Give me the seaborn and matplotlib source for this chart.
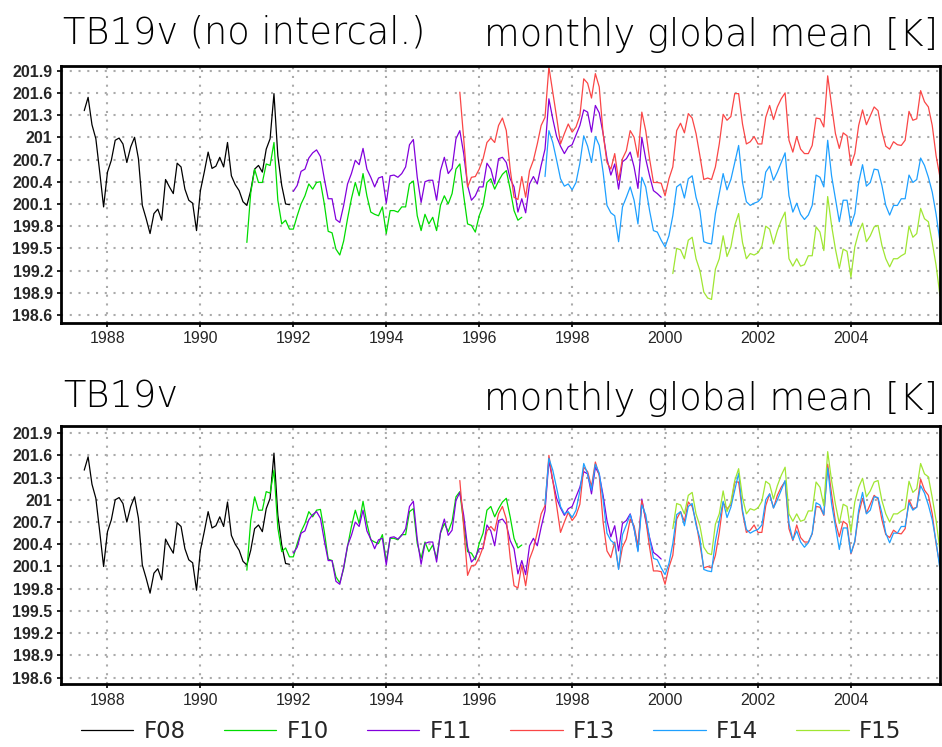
import numpy as np
import pandas as pd
import matplotlib
matplotlib.use("Agg")
import matplotlib.pyplot as plt
from matplotlib.lines import Line2D
import seaborn as sns

# ---------------- data (monthly global mean TB19v, K) ----------------
satellites = ["F08", "F10", "F11", "F13", "F14", "F15"]
sat_colors = ["#000000", "#00dc00", "#8200dc", "#fa4646", "#1ea0ff", "#a0e632"]

f08_start = (1987, 7)
f08_tb = [201.36, 201.54, 201.17, 200.98, 200.53, 200.06, 200.53, 200.69, 200.96, 200.99, 200.91, 200.66,
          200.87, 201.00, 200.71, 200.08, 199.90, 199.70, 199.97, 200.03, 199.88, 200.43, 200.33, 200.24,
          200.65, 200.60, 200.30, 200.15, 200.11, 199.74, 200.28, 200.53, 200.80, 200.58, 200.61, 200.73,
          200.60, 200.93, 200.48, 200.36, 200.28, 200.13, 200.08, 200.28, 200.57, 200.62, 200.53, 200.84,
          200.98, 201.59, 200.75, 200.35, 200.10, 200.09]

f10_start = (1991, 1)
f10_tb = [199.58, 200.25, 200.57, 200.39, 200.39, 200.64, 200.62, 200.93, 200.15, 199.83, 199.88, 199.76,
          199.76, 199.94, 200.10, 200.21, 200.37, 200.30, 200.39, 200.40, 200.10, 199.73, 199.71, 199.49,
          199.41, 199.60, 199.90, 200.17, 200.39, 200.21, 200.51, 200.21, 199.99, 199.96, 199.94, 200.06,
          199.70, 200.01, 200.01, 199.99, 200.06, 200.06, 200.37, 200.41, 199.94, 199.74, 199.96, 199.83,
          199.92, 199.74, 200.08, 200.21, 200.10, 200.24, 200.57, 200.64, 200.21, 199.83, 199.81, 199.72,
          199.94, 200.08, 200.39, 200.44, 200.30, 200.41, 200.50, 200.55, 200.30, 200.01, 199.88, 199.92]

f11_start = (1992, 1)
f11_tb = [200.27, 200.35, 200.54, 200.57, 200.72, 200.79, 200.83, 200.74, 200.44, 200.17, 200.17, 199.89,
          199.85, 200.08, 200.37, 200.51, 200.69, 200.63, 200.85, 200.57, 200.46, 200.33, 200.45, 200.47,
          200.11, 200.48, 200.49, 200.46, 200.51, 200.60, 200.90, 200.97, 200.46, 200.12, 200.40, 200.42,
          200.42, 200.15, 200.55, 200.73, 200.51, 200.58, 200.98, 201.09, 200.78, 200.35, 200.15, 200.21,
          200.33, 200.33, 200.65, 200.57, 200.37, 200.71, 200.73, 200.66, 200.44, 200.33, 199.99, 200.17,
          199.98, 200.37, 200.47, 200.37, 200.62, 200.84, 201.52, 201.25, 201.01, 200.88, 200.78, 200.87,
          200.90, 201.03, 201.16, 201.37, 201.34, 201.07, 201.43, 201.33, 201.05, 200.71, 200.49, 200.64,
          200.30, 200.67, 200.71, 200.80, 200.60, 200.31, 201.00, 200.71, 200.48, 200.28, 200.24, 200.19]

f13_start = (1995, 8)
f13_tb = [201.61, 200.98, 200.33, 200.46, 200.47,
          200.57, 200.71, 200.93, 200.99, 200.93, 201.16, 201.26, 201.09, 200.57, 200.19, 200.16, 200.47,
          200.19, 200.55, 200.69, 200.91, 201.16, 201.27, 201.95, 201.61, 201.27, 200.91, 201.05, 201.18,
          201.07, 201.14, 201.29, 201.79, 201.73, 201.53, 201.86, 201.68, 201.05, 200.66, 200.57, 200.78,
          200.42, 200.71, 200.82, 201.09, 201.00, 200.73, 201.34, 201.09, 200.71, 200.39, 200.39, 200.38,
          200.21, 200.44, 200.60, 201.09, 201.19, 201.06, 201.32, 201.26, 201.05, 200.75, 200.43, 200.45,
          200.43, 200.60, 200.91, 201.31, 201.23, 201.28, 201.59, 201.59, 201.18, 200.91, 200.94, 201.01,
          200.91, 200.91, 201.27, 201.43, 201.24, 201.41, 201.52, 201.60, 200.96, 200.80, 201.01, 200.84,
          200.78, 200.78, 200.89, 201.26, 201.25, 201.14, 201.83, 201.43, 201.05, 200.85, 201.06, 201.02,
          200.62, 200.78, 201.16, 201.37, 201.17, 201.29, 201.41, 201.36, 201.08, 200.88, 200.84, 200.94,
          200.90, 200.89, 200.96, 201.35, 201.23, 201.25, 201.63, 201.48, 201.41, 201.16, 200.75, 200.46]

f14_start = (1997, 6)
f14_tb = [200.47, 201.09, 200.93, 200.69, 200.44, 200.34, 200.37,
          200.29, 200.39, 200.65, 201.02, 200.88, 200.66, 201.01, 200.89, 200.53, 200.08, 199.98, 199.94,
          199.59, 200.06, 200.19, 200.33, 200.15, 199.83, 200.46, 200.33, 200.01, 199.74, 199.72, 199.61,
          199.52, 199.67, 199.94, 200.33, 200.37, 200.18, 200.44, 200.48, 200.19, 200.01, 199.59, 199.57,
          199.56, 199.97, 200.24, 200.51, 200.29, 200.43, 200.66, 200.89, 200.39, 200.13, 200.08, 200.11,
          200.13, 200.19, 200.53, 200.61, 200.42, 200.53, 200.66, 200.79, 200.21, 199.99, 200.11, 199.96,
          199.89, 199.95, 200.08, 200.49, 200.46, 200.33, 200.96, 200.48, 200.17, 199.86, 200.15, 200.15,
          199.81, 199.97, 200.39, 200.63, 200.34, 200.39, 200.57, 200.56, 200.35, 200.08, 199.95, 200.08,
          200.08, 200.17, 200.17, 200.49, 200.39, 200.43, 200.72, 200.62, 200.46, 200.26, 199.96, 199.59]

f15_start = (2000, 3)
f15_tb = [199.16, 199.50, 199.48, 199.36, 199.61, 199.65, 199.36, 199.20, 198.91, 198.83,
          198.81, 199.22, 199.36, 199.67, 199.39, 199.52, 199.81, 199.97, 199.58, 199.36, 199.43, 199.41,
          199.44, 199.53, 199.80, 199.76, 199.56, 199.74, 199.88, 199.99, 199.36, 199.26, 199.36, 199.26,
          199.28, 199.40, 199.40, 199.79, 199.72, 199.47, 200.20, 199.81, 199.49, 199.23, 199.49, 199.46,
          199.11, 199.52, 199.72, 199.84, 199.59, 199.67, 199.79, 199.81, 199.54, 199.36, 199.25, 199.36,
          199.36, 199.40, 199.43, 199.80, 199.65, 199.70, 200.04, 199.90, 199.86, 199.58, 199.27, 198.86]

# intercalibration offsets (K)
intercal_offsets = [0.04, 0.47, 0.01, -0.35, 0.47, 1.45]

y_ticks = [198.6, 198.9, 199.2, 199.5, 199.8, 200.1, 200.4, 200.7, 201.0, 201.3, 201.6, 201.9]
x_ticks = [1988, 1990, 1992, 1994, 1996, 1998, 2000, 2002, 2004]

titles_left = ["TB19v (no intercal.)", "TB19v"]
title_right = "monthly global mean [K]"

# ---------------- build long-form table ----------------
starts = [f08_start, f10_start, f11_start, f13_start, f14_start, f15_start]
series = [f08_tb, f10_tb, f11_tb, f13_tb, f14_tb, f15_tb]
frames = []
for sat, st, vals, off in zip(satellites, starts, series, intercal_offsets):
    v = np.asarray(vals, dtype=float)
    t = st[0] + (st[1] - 1) / 12.0 + np.arange(len(v)) / 12.0
    frames.append(pd.DataFrame({"t": t, "tb": v, "sat": sat, "panel": 0}))
    frames.append(pd.DataFrame({"t": t, "tb": v + off, "sat": sat, "panel": 1}))
df = pd.concat(frames, ignore_index=True)

# ---------------- style ----------------
sns.set_style("ticks")
plt.rcParams["font.family"] = ["DejaVu Sans"]

W, H = 942, 747
fig = plt.figure(figsize=(W / 100, H / 100), dpi=100)

axes_px = [(61, 66, 940, 322.7), (61, 425.7, 940, 684.3)]
ylims = [(198.496, 201.963), (198.51, 202.0)]
palette = dict(zip(satellites, sat_colors))

for i, (x0, y0, x1, y1) in enumerate(axes_px):
    ax = fig.add_axes([x0 / W, 1 - y1 / H, (x1 - x0) / W, (y1 - y0) / H])
    sub = df[df["panel"] == i]
    sns.lineplot(data=sub, x="t", y="tb", hue="sat", hue_order=satellites,
                 palette=palette, estimator=None, sort=False, lw=0.9,
                 legend=False, ax=ax)
    ax.set_xlim(1987.0, 2005.917)
    ax.set_ylim(*ylims[i])
    ax.set_xticks(x_ticks)
    ax.set_xticklabels([str(x) for x in x_ticks], fontfamily="Liberation Sans", fontsize=11.5)
    ax.set_yticks(y_ticks)
    ax.set_yticklabels([f"{v:g}" for v in y_ticks], fontfamily="Liberation Sans",
                       fontweight="bold", fontsize=11.5)
    ax.set_xlabel("")
    ax.set_ylabel("")
    ax.grid(True, color="#aaaaaa", linestyle=(0, (1, 3.2)), lw=1.5)
    ax.set_axisbelow(True)
    for s in ax.spines.values():
        s.set_linewidth(2.0)
        s.set_color("black")
    ax.tick_params(axis="both", direction="out", length=3, width=1.2, color="black")
    ax.tick_params(axis="x", pad=3)
    ax.tick_params(axis="y", pad=3)

# titles
base_top = [44, 408]
for i, lbl in enumerate(titles_left):
    fig.text(63 / W, 1 - base_top[i] / H, lbl, ha="left", va="baseline",
             fontsize=26.5, fontweight="light", color="black")
    fig.text(938 / W, 1 - (base_top[i] + 2) / H, title_right, ha="right", va="baseline",
             fontsize=26.5, fontweight="light", color="black")

# legend
handles = [Line2D([0], [0], color=c, lw=0.9) for c in sat_colors]
fig.legend(handles, satellites, loc="center", bbox_to_anchor=(491 / W, 1 - 731.7 / H),
           ncol=6, frameon=False, handlelength=2.3, handletextpad=0.45,
           columnspacing=1.65, prop={"weight": "normal", "size": 16.5})

fig.savefig("out.png", dpi=100)
